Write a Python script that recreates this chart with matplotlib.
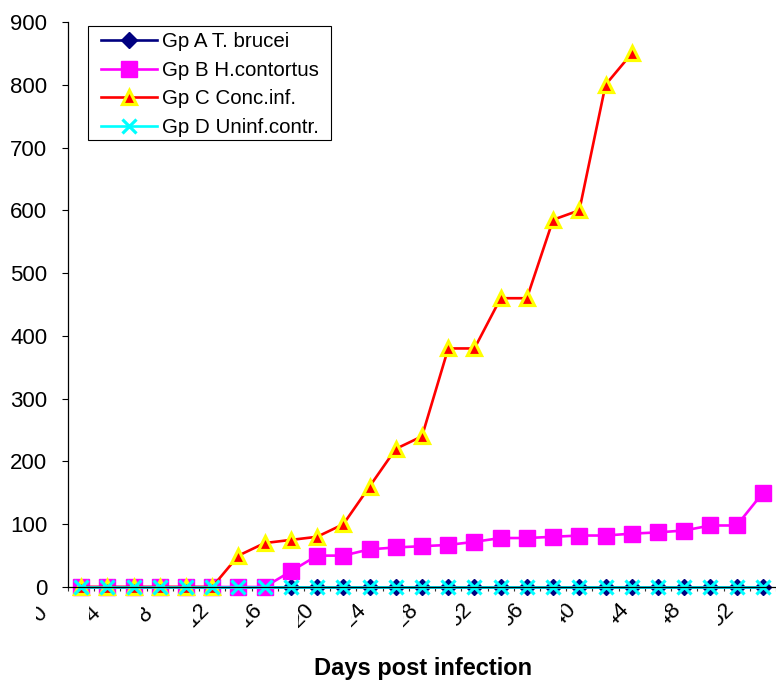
import numpy as np
import matplotlib
matplotlib.use("Agg")
import matplotlib.pyplot as plt
from matplotlib.patches import Rectangle
from matplotlib.transforms import Bbox, TransformedBbox

plt.rcParams['font.family'] = ['Liberation Sans', 'DejaVu Sans']

# sampling days (every 2 days, 0..52)
days = list(range(0, 54, 2))
day_labels = list(range(0, 56, 4))

gp_a = [0] * 27
gp_b = [0, 0, 0, 0, 0, 0, 0, 0, 25, 50, 50, 60, 63, 65, 67, 72, 78, 78,
        80, 82, 82, 85, 87, 90, 98, 98, 150]
gp_c = [0, 0, 0, 0, 0, 0, 50, 70, 75, 80, 100, 160, 220, 240, 380, 380,
        460, 460, 585, 600, 800, 850]
gp_d = [0] * 27

fig = plt.figure(figsize=(7.76, 6.91), dpi=100)
ax = fig.add_axes([68 / 776, 1 - 587 / 691, 708 / 776, 565 / 691])

lw = 1.9
ax.plot(days, gp_a, color='#000080', lw=lw, marker='D', ms=8,
        mfc='#000080', mec='#000080', label='Gp A T. brucei', clip_on=False)
ax.plot(days, gp_b, color='#FF00FF', lw=lw, marker='s', ms=11,
        mfc='#FF00FF', mec='#FF00FF', label='Gp B H.contortus', clip_on=False)
ax.plot(days[:len(gp_c)], gp_c, color='#FF0000', lw=lw, marker='^', ms=9.5,
        mfc='#FF0000', mec='#FFFF00', mew=2.3, label='Gp C Conc.inf.',
        clip_on=False)
ax.plot(days, gp_d, color='#00FFFF', lw=lw, marker='x', ms=10.5, mew=2.3,
        mec='#00FFFF', label='Gp D Uninf.contr.', clip_on=False)

ax.set_xlim(-1, 53)
ax.set_ylim(0, 900)
ax.set_yticks(range(0, 1000, 100))
ax.tick_params(axis='y', direction='out', length=4.5, width=0.8,
               labelsize=16, pad=10.5, color='black')
ax.set_xticks([])
ax.set_xticks(np.arange(-1, 54, 2), minor=True)
ax.tick_params(axis='x', which='minor', direction='out', length=3,
               width=0.8, color='#333333')
ax.tick_params(axis='x', which='major', length=0, labelbottom=False)

for side in ('top', 'right'):
    ax.spines[side].set_visible(False)
ax.spines['left'].set_linewidth(0.9)
ax.spines['bottom'].set_linewidth(0.9)

# rotated day labels, cut off on their left side
px_day = 708 / 54
px_val = 565 / 900
for d in day_labels:
    cx = d - 41 / px_day
    cy = -28 / px_val
    box = Bbox([[cx - 4 / px_day, -60 / px_val], [cx + 20 / px_day, -10 / px_val]])
    t = ax.text(cx, cy, str(d), rotation=45, rotation_mode='anchor',
                ha='center', va='center', fontsize=16)
    t.set_clip_box(TransformedBbox(box, ax.transData))
    t.set_clip_on(True)

fig.text(423 / 776, 1 - 668 / 691, 'Days post infection', ha='center',
         va='center', fontsize=17, fontweight='bold')

# legend frame drawn separately for wider side padding
fig.patches.append(Rectangle((88 / 776, 1 - 140 / 691), 243 / 776, 114 / 691,
                             transform=fig.transFigure, fill=False,
                             edgecolor='black', lw=0.8, zorder=5))
leg = ax.legend(loc='upper left', bbox_to_anchor=(95 / 776, 1 - 26 / 691),
                bbox_transform=fig.transFigure, fontsize=14.8, frameon=False,
                handlelength=2.7, borderpad=0.3, labelspacing=0.47,
                handletextpad=0.25, borderaxespad=0)

fig.savefig('out.png', dpi=100)
